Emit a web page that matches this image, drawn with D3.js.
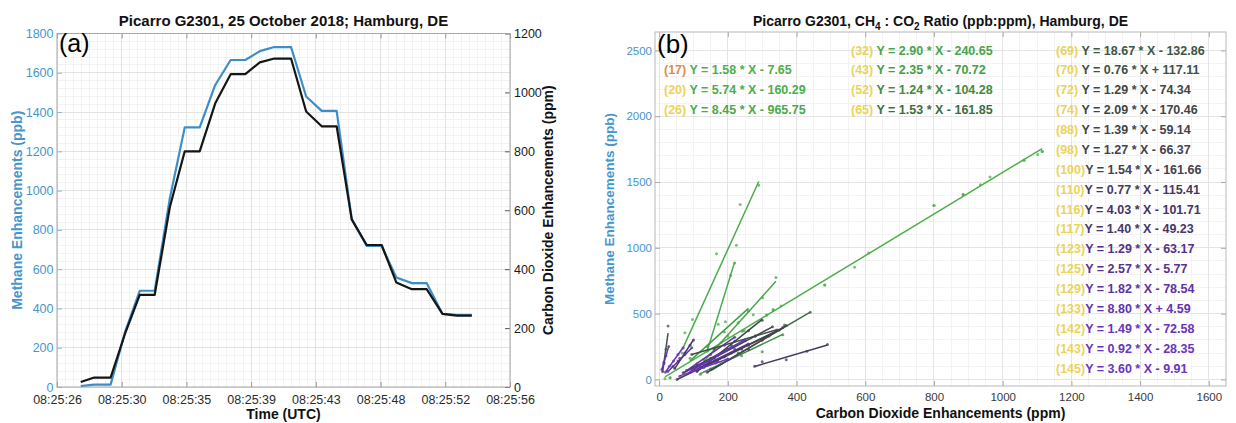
<!DOCTYPE html>
<html>
<head>
<meta charset="utf-8">
<script src="https://cdn.jsdelivr.net/npm/d3@7"></script>
<style>
  body { margin: 0; background: #fff; }
  svg { display: block; }
</style>
</head>
<body>
<svg id="chart" width="1236" height="423"></svg>
<script>
// ---------- panel (a): time series, seconds after 08:25:00 UTC ----------
const timeSec = [28.27, 29.17, 30.25, 31.2, 32.18, 33.17, 34.17, 35.16, 36.15, 37.18, 38.2, 39.17, 40.13, 41.09,
                 42.2, 43.2, 44.23, 45.22, 46.22, 47.21, 48.2, 49.17, 50.2, 51.18, 52.23, 53.19, 54.17];
const methanePpb = [5, 12, 12, 279, 490, 490, 960, 1322, 1322, 1538, 1665, 1665, 1710, 1731,
                    1731, 1479, 1406, 1406, 853, 718, 718, 558, 529, 529, 372, 367, 367];
const co2Ppm = [17, 32, 32, 180, 313, 313, 610, 800, 800, 963, 1062, 1062, 1102, 1115,
                1115, 935, 885, 885, 569, 482, 482, 355, 332, 332, 248, 242, 242];
const timeTickLabels = ["08:25:26", "08:25:30", "08:25:35", "08:25:39", "08:25:43", "08:25:48", "08:25:52", "08:25:56"];
const timeRange = [26.7, 56.7];
const methaneTicks = [0, 200, 400, 600, 800, 1000, 1200, 1400, 1600, 1800];
const co2Ticks = [0, 200, 400, 600, 800, 1000, 1200];

// ---------- panel (b): per-plume linear fits of CH4 against CO2 ----------
const plumeIds = [17, 20, 26, 32, 43, 52, 65, 69, 70, 72, 74, 88, 98, 100, 110, 116, 117, 123, 125, 129, 133, 142, 143, 145];
const plumeSlopes = [1.58, 5.74, 8.45, 2.90, 2.35, 1.24, 1.53, 18.67, 0.76, 1.29, 2.09, 1.39, 1.27, 1.54, 0.77,
                     4.03, 1.40, 1.29, 2.57, 1.82, 8.80, 1.49, 0.92, 3.60];
const plumeIntercepts = [-7.65, -160.29, -965.75, -240.65, -70.72, -104.28, -161.85, -132.86, 117.11, -74.34, -170.46,
                         -59.14, -66.37, -161.66, -115.41, -101.71, -49.23, -63.17, -5.77, -78.54, 4.59, -72.58, -28.35, -9.91];
// plume 17 is the event of panel (a); the others are [CO2 ppm, CH4 ppb] samples
const plumeSamples = {
  20: [[67, 200], [75, 355], [97, 455], [167, 955], [225, 1020], [236, 1330], [290, 1475]],
  26: [[140, 215], [172, 420], [193, 438], [208, 790], [220, 885]],
  32: [[130, 150], [200, 330], [274, 492], [301, 620], [340, 775]],
  43: [[90, 160], [140, 250], [190, 360], [230, 430], [260, 520]],
  52: [[120, 40], [180, 120], [240, 180], [300, 210], [360, 340]],
  65: [[150, 80], [230, 200], [300, 300], [365, 413], [440, 510]],
  69: [[10, 60], [14, 120], [20, 230], [26, 405]],
  70: [[95, 190], [160, 230], [220, 290], [280, 330], [343, 375]],
  72: [[110, 65], [170, 140], [240, 230], [300, 300], [360, 395]],
  74: [[110, 60], [160, 160], [210, 260], [260, 370], [300, 450]],
  88: [[100, 75], [160, 165], [220, 230], [280, 330], [330, 400]],
  98: [[52, 0], [120, 90], [190, 170], [260, 260], [350, 375]],
  100: [[140, 55], [200, 150], [260, 230], [320, 330], [370, 410]],
  110: [[278, 100], [300, 135], [370, 150], [430, 215], [490, 265]],
  116: [[45, 85], [60, 160], [75, 200], [90, 260], [100, 300]],
  117: [[70, 50], [110, 100], [150, 160], [200, 230], [250, 300]],
  123: [[90, 55], [130, 100], [170, 150], [210, 200], [260, 270]],
  125: [[25, 60], [40, 100], [55, 140], [75, 190], [95, 240]],
  129: [[80, 70], [110, 120], [150, 190], [190, 260], [220, 320]],
  133: [[8, 75], [14, 130], [20, 180], [28, 250]],
  142: [[95, 70], [130, 120], [170, 180], [210, 240], [250, 300]],
  143: [[60, 25], [95, 60], [130, 90], [165, 125], [200, 155]],
  145: [[18, 55], [30, 100], [42, 140], [55, 190], [70, 240]]
};
const ratioXTicks = [0, 200, 400, 600, 800, 1000, 1200, 1400, 1600];
const ratioYTicks = [0, 500, 1000, 1500, 2000, 2500];
// equation legend: three columns of plume ids, first row index per column
const legendColumns = [[17, 20, 26], [32, 43, 52, 65],
                       [69, 70, 72, 74, 88, 98, 100, 110, 116, 117, 123, 125, 129, 133, 142, 143, 145]];
const legendFirstRow = [1, 0, 0];

// ---------- styling ----------
const FONT = '"Liberation Sans", Arial, Helvetica, sans-serif';
const BLUE_LINE = "#3d8ec6";
const BLUE_TEXT = "#4596cc";
const plumeColor = d3.scaleLinear()
  .domain([17, 43, 65, 72, 100, 116, 129, 145])
  .range(["#4daf4a", "#42a046", "#3b6e42", "#3f4644", "#454250", "#463563", "#5f32a6", "#6a35c0"])
  .interpolate(d3.interpolateRgb);
const idColor = id => (id === 17 ? "#dc8c48" : "#ebd35a");
const intFmt = d3.format("d");

const svg = d3.select("#chart");

function styleAxis(g, textColor, tickColor, size) {
  g.attr("font-size", null).attr("font-family", null);
  g.select(".domain").remove();
  g.selectAll(".tick line").attr("stroke", tickColor);
  g.selectAll(".tick text").attr("fill", textColor).attr("font-size", size).attr("font-family", FONT);
}

function subdivide(ticks, n) {
  const out = [];
  for (let i = 0; i < ticks.length - 1; i++) {
    for (let k = 0; k < n; k++) out.push(ticks[i] + (ticks[i + 1] - ticks[i]) * k / n);
  }
  out.push(ticks[ticks.length - 1]);
  return out;
}

function drawGrid(g, xVals, yVals, x, y, color) {
  const [y0, y1] = y.range();
  const [x0, x1] = x.range();
  g.selectAll(null).data(xVals).join("line")
    .attr("x1", d => x(d)).attr("x2", d => x(d)).attr("y1", y0).attr("y2", y1)
    .attr("stroke", color).attr("stroke-width", 1).attr("shape-rendering", "crispEdges");
  g.selectAll(null).data(yVals).join("line")
    .attr("y1", d => y(d)).attr("y2", d => y(d)).attr("x1", x0).attr("x2", x1)
    .attr("stroke", color).attr("stroke-width", 1).attr("shape-rendering", "crispEdges");
}

// ================= panel (a) =================
const pa = { left: 57, right: 510, top: 33.5, bottom: 387 };
const timeTicks = timeTickLabels.map((_, i) => timeRange[0] + i * (timeRange[1] - timeRange[0]) / (timeTickLabels.length - 1));
const xA = d3.scaleLinear().domain(timeRange).range([pa.left, pa.right]);
const yCH4 = d3.scaleLinear().domain([0, 1800]).range([pa.bottom, pa.top]);
const yCO2 = d3.scaleLinear().domain([0, 1200]).range([pa.bottom, pa.top]);

const ga = svg.append("g");
drawGrid(ga.append("g"), subdivide(timeTicks, 8), subdivide(methaneTicks, 5), xA, yCH4, "#f2f2f2");
drawGrid(ga.append("g"), timeTicks, methaneTicks, xA, yCH4, "#e2e2e2");

ga.append("g").attr("transform", `translate(${pa.left},0)`)
  .call(d3.axisLeft(yCH4).tickValues(methaneTicks).tickFormat(intFmt).tickSize(-5).tickPadding(3.5))
  .call(g => styleAxis(g, BLUE_TEXT, "#8fb8d8", 12.5));
ga.append("g").attr("transform", `translate(${pa.right},0)`)
  .call(d3.axisRight(yCO2).tickValues(co2Ticks).tickFormat(intFmt).tickSize(-5).tickPadding(4))
  .call(g => styleAxis(g, "#1a1a1a", "#555", 12.5));
ga.append("g").attr("transform", `translate(0,${pa.bottom})`)
  .call(d3.axisBottom(xA).tickValues(timeTicks).tickFormat((d, i) => timeTickLabels[i]).tickSize(-5).tickPadding(8))
  .call(g => styleAxis(g, "#2b2b2b", "#999", 12.5));
ga.append("g").attr("transform", `translate(0,${pa.top})`)
  .call(d3.axisTop(xA).tickValues(timeTicks).tickFormat("").tickSize(-5))
  .call(g => styleAxis(g, "#2b2b2b", "#999", 12.5));

ga.append("rect")
  .attr("x", pa.left).attr("y", pa.top).attr("width", pa.right - pa.left).attr("height", pa.bottom - pa.top)
  .attr("fill", "none").attr("stroke", "#a8a8a8").attr("stroke-width", 1);

const series = timeSec.map((t, i) => ({ t, ch4: methanePpb[i], co2: co2Ppm[i] }));
ga.append("path").datum(series)
  .attr("fill", "none").attr("stroke", BLUE_LINE).attr("stroke-width", 2.2).attr("stroke-linejoin", "round")
  .attr("d", d3.line().x(d => xA(d.t)).y(d => yCH4(d.ch4)));
ga.append("path").datum(series)
  .attr("fill", "none").attr("stroke", "#151515").attr("stroke-width", 2.2).attr("stroke-linejoin", "round")
  .attr("d", d3.line().x(d => xA(d.t)).y(d => yCO2(d.co2)));

ga.append("text").attr("x", 59).attr("y", 52).attr("font-family", FONT).attr("font-size", 25).attr("fill", "#000").text("(a)");

ga.append("text").attr("x", (pa.left + pa.right) / 2).attr("y", 26).attr("text-anchor", "middle")
  .attr("font-family", FONT).attr("font-size", 15).attr("font-weight", "bold").attr("fill", "#111")
  .text("Picarro G2301, 25 October 2018; Hamburg, DE");
ga.append("text").attr("x", (pa.left + pa.right) / 2).attr("y", 419).attr("text-anchor", "middle")
  .attr("font-family", FONT).attr("font-size", 14).attr("font-weight", "bold").attr("fill", "#111")
  .text("Time (UTC)");
ga.append("text").attr("transform", `translate(22,${(pa.top + pa.bottom) / 2}) rotate(-90)`).attr("text-anchor", "middle")
  .attr("font-family", FONT).attr("font-size", 14).attr("font-weight", "bold").attr("fill", BLUE_TEXT)
  .text("Methane Enhancements (ppb)");
ga.append("text").attr("transform", `translate(553,${(pa.top + pa.bottom) / 2}) rotate(-90)`).attr("text-anchor", "middle")
  .attr("font-family", FONT).attr("font-size", 14).attr("font-weight", "bold").attr("fill", "#111")
  .text("Carbon Dioxide Enhancements (ppm)");

// ================= panel (b) =================
const pb = { left: 655, right: 1226, top: 32, bottom: 386 };
const xB = d3.scaleLinear().domain([-12, 1650]).range([pb.left, pb.right]);
const yB = d3.scaleLinear().domain([-50, 2640]).range([pb.bottom, pb.top]);

const gb = svg.append("g");
drawGrid(gb.append("g"), subdivide(ratioXTicks, 4), subdivide(ratioYTicks, 5), xB, yB, "#f3f3f3");
drawGrid(gb.append("g"), ratioXTicks, ratioYTicks, xB, yB, "#e4e4e4");

gb.append("g").attr("transform", `translate(${pb.left},0)`)
  .call(d3.axisLeft(yB).tickValues(ratioYTicks).tickFormat(intFmt).tickSize(-5).tickPadding(3))
  .call(g => styleAxis(g, BLUE_TEXT, "#aaa", 11.5));
gb.append("g").attr("transform", `translate(${pb.right},0)`)
  .call(d3.axisRight(yB).tickValues(ratioYTicks).tickFormat("").tickSize(-5))
  .call(g => styleAxis(g, "#333", "#aaa", 11.5));
gb.append("g").attr("transform", `translate(0,${pb.bottom})`)
  .call(d3.axisBottom(xB).tickValues(ratioXTicks).tickFormat(intFmt).tickSize(-5).tickPadding(7))
  .call(g => styleAxis(g, "#3a3a3a", "#aaa", 11.5));
gb.append("g").attr("transform", `translate(0,${pb.top})`)
  .call(d3.axisTop(xB).tickValues(ratioXTicks).tickFormat("").tickSize(-5))
  .call(g => styleAxis(g, "#333", "#aaa", 11.5));

gb.append("clipPath").attr("id", "clipB").append("rect")
  .attr("x", pb.left).attr("y", pb.top).attr("width", pb.right - pb.left).attr("height", pb.bottom - pb.top);

const plumes = plumeIds.map((id, i) => ({
  id,
  slope: plumeSlopes[i],
  intercept: plumeIntercepts[i],
  points: id === 17 ? co2Ppm.map((c, k) => [c, methanePpb[k]]) : plumeSamples[id]
}));

const marks = gb.append("g").attr("clip-path", "url(#clipB)");
plumes.forEach(p => {
  const col = plumeColor(p.id);
  const [x0, x1] = d3.extent(p.points, d => d[0]);
  marks.append("line")
    .attr("x1", xB(x0)).attr("y1", yB(p.slope * x0 + p.intercept))
    .attr("x2", xB(x1)).attr("y2", yB(p.slope * x1 + p.intercept))
    .attr("stroke", col).attr("stroke-width", 1.5);
  marks.selectAll(null).data(p.points).join("circle")
    .attr("cx", d => xB(d[0])).attr("cy", d => yB(d[1])).attr("r", 1.5)
    .attr("fill", col).attr("opacity", 0.75);
});

gb.append("rect")
  .attr("x", pb.left).attr("y", pb.top).attr("width", pb.right - pb.left).attr("height", pb.bottom - pb.top)
  .attr("fill", "none").attr("stroke", "#b8b8b8").attr("stroke-width", 1);

// equation legend
const colX = [664, 851, 1056];
const rowY = i => 50.5 + 19.88 * i;
const fmt = d3.format(".2f");
legendColumns.forEach((ids, c) => {
  ids.forEach((id, r) => {
    const p = plumes.find(q => q.id === id);
    const label = `(${id})`;
    const eq = `Y = ${fmt(p.slope)} * X ${p.intercept < 0 ? "-" : "+"} ${fmt(Math.abs(p.intercept))}`;
    const t = gb.append("text").attr("x", colX[c]).attr("y", rowY(legendFirstRow[c] + r))
      .attr("dominant-baseline", "central").attr("font-family", FONT).attr("font-size", 12.5)
      .attr("font-weight", "bold").style("white-space", "pre");
    t.append("tspan").attr("fill", idColor(id)).text(label);
    t.append("tspan").attr("fill", plumeColor(id)).text((label.length < 5 ? " " : "") + eq);
  });
});

gb.append("text").attr("x", 657).attr("y", 53).attr("font-family", FONT).attr("font-size", 26).attr("fill", "#000").text("(b)");

const titleB = gb.append("text").attr("x", (pb.left + pb.right) / 2).attr("y", 25.5).attr("text-anchor", "middle")
  .attr("font-family", FONT).attr("font-size", 14).attr("font-weight", "bold").attr("fill", "#111");
titleB.append("tspan").text("Picarro G2301, CH");
titleB.append("tspan").attr("font-size", 10).attr("dy", 4).text("4");
titleB.append("tspan").attr("dy", -4).text(" : CO");
titleB.append("tspan").attr("font-size", 10).attr("dy", 4).text("2");
titleB.append("tspan").attr("dy", -4).text(" Ratio (ppb:ppm), Hamburg, DE");

gb.append("text").attr("x", (pb.left + pb.right) / 2).attr("y", 418).attr("text-anchor", "middle")
  .attr("font-family", FONT).attr("font-size", 14).attr("font-weight", "bold").attr("fill", "#111")
  .text("Carbon Dioxide Enhancements (ppm)");
gb.append("text").attr("transform", `translate(614,${(pb.top + pb.bottom) / 2}) rotate(-90)`).attr("text-anchor", "middle")
  .attr("font-family", FONT).attr("font-size", 13.5).attr("font-weight", "bold").attr("fill", BLUE_TEXT)
  .text("Methane Enhancements (ppb)");
</script>
</body>
</html>
